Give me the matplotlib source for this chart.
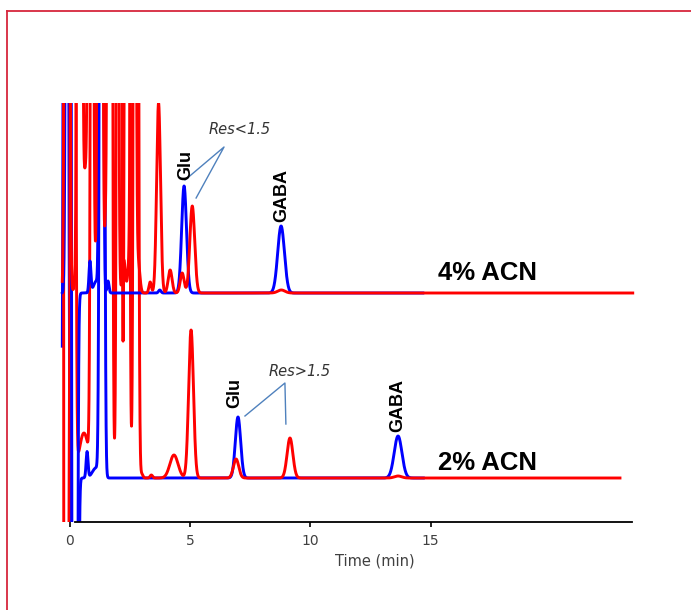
import numpy as np
import matplotlib
matplotlib.use("Agg")
import matplotlib.pyplot as plt
from matplotlib.lines import Line2D

# peak tables: retention time (min), height above baseline, width (sigma, min)
top_base = 229
top_blue_t = [-0.05, 0.22, 0.85, 1.12, 1.32, 1.6, 3.75, 4.76, 8.79]
top_blue_h = [3000, -3000, 31, 12, 3000, 12, 3, 107, 67]
top_blue_s = [0.06, 0.06, 0.04, 0.12, 0.05, 0.04, 0.05, 0.1, 0.14]
top_blue_end = 14.68

top_red_t = [-0.1, 0.42, 0.7, 0.88, 1.27, 1.5, 1.68, 1.92, 2.26, 2.45, 2.65, 2.85, 3.35, 3.7, 4.18, 4.68, 5.1, 8.8]
top_red_h = [3000, 3000, 126, 3000, 3000, 60, 3000, 3000, 33, 20, 3000, 31, 11, 190, 23, 20, 87, 3]
top_red_s = [0.06, 0.06, 0.2, 0.06, 0.06, 0.05, 0.06, 0.06, 0.06, 0.05, 0.06, 0.07, 0.05, 0.08, 0.08, 0.08, 0.1, 0.15]
top_red_end = 23.4

bot_base = 44
bot_blue_t = [-0.15, 0.25, 0.73, 1.1, 1.35, 7.0, 13.65]
bot_blue_h = [3000, -3000, 26, 10, 3000, 61, 42]
bot_blue_s = [0.06, 0.06, 0.04, 0.15, 0.06, 0.11, 0.16]
bot_blue_end = 14.7

bot_red_t = [-0.3, -0.18, 0.15, 0.6, 0.98, 1.27, 1.43, 1.68, 2.06, 2.39, 2.76, 3.0, 3.4, 4.34, 5.05, 6.92, 9.16, 13.65]
bot_red_h = [3000, -3000, 3000, 45, 3000, 3000, 3000, 3000, 3000, 3000, 3000, 4, 3, 23, 148, 19, 40, 2]
bot_red_s = [0.06, 0.06, 0.06, 0.2, 0.06, 0.06, 0.06, 0.06, 0.06, 0.06, 0.06, 0.05, 0.05, 0.17, 0.1, 0.11, 0.12, 0.15]
bot_red_end = 22.87

xticks = [0, 5, 10, 15]


def trace(base, ts, hs, ss, end):
    t = np.linspace(-0.3, end, 8000)
    y = np.full_like(t, float(base))
    for t0, h, s in zip(ts, hs, ss):
        y += h * np.exp(-(t - t0) ** 2 / (2 * s ** 2))
    return t, y


fig = plt.figure(figsize=(6.91, 6.10), dpi=100)
ax = fig.add_axes([60 / 691, 88 / 610, 585 / 691, 419 / 610])
ax.set_xlim(-0.395, 23.91)
ax.set_ylim(0, 419)

lw = 2.1
ax.plot(*trace(bot_base, bot_blue_t, bot_blue_h, bot_blue_s, bot_blue_end), color='#0000ff', lw=lw)
ax.plot(*trace(bot_base, bot_red_t, bot_red_h, bot_red_s, bot_red_end), color='#ff0000', lw=lw)
ax.plot(*trace(top_base, top_blue_t, top_blue_h, top_blue_s, top_blue_end), color='#0000ff', lw=lw)
ax.plot(*trace(top_base, top_red_t, top_red_h, top_red_s, top_red_end), color='#ff0000', lw=lw)

# axes styling
for side in ['top', 'right', 'left']:
    ax.spines[side].set_visible(False)
ax.spines['bottom'].set_bounds(0.23, 23.35)
ax.spines['bottom'].set_linewidth(1.3)
ax.set_yticks([])
ax.set_xticks(xticks)
ax.tick_params(axis='x', direction='out', length=3.5, width=1.2, colors='black',
               labelcolor='#404040', labelsize=10, pad=5)
ax.set_xlabel('Time (min)', fontsize=10.5, color='#404040')
ax.xaxis.set_label_coords((375 - 60) / 585, -0.075)

# peak labels
bold = dict(family='Liberation Sans', weight='bold', color='black', ha='center', va='center')
ax.text(4.84, 357, 'Glu', rotation=90, fontsize=13, **bold)
ax.text(8.83, 327, 'GABA', rotation=90, fontsize=13, **bold)
ax.text(6.88, 129, 'Glu', rotation=90, fontsize=13, **bold)
ax.text(13.65, 117, 'GABA', rotation=90, fontsize=13, **bold)
ax.text(17.35, 249, '4% ACN', fontsize=18.5, **bold)
ax.text(17.35, 59, '2% ACN', fontsize=18.5, **bold)

# resolution notes
note = dict(style='italic', color='#333333', fontsize=10.5, ha='center', va='center')
ax.text(7.08, 392, 'Res<1.5', **note)
ax.text(9.58, 151, 'Res>1.5', **note)
lc = '#4f81bd'
ax.plot([4.80, 6.42, 5.26], [342, 375, 324], color=lc, lw=1)
ax.plot([7.29, 8.95, 8.99], [106, 139, 98], color=lc, lw=1)

# red frame around the picture
fc = '#d7263d'
fig.add_artist(Line2D([7 / 691, 7 / 691], [0, 1 - 11 / 610], color=fc, lw=1.3))
fig.add_artist(Line2D([7 / 691, 1], [1 - 11 / 610, 1 - 11 / 610], color=fc, lw=1.3))

fig.savefig('out.png', dpi=100)
